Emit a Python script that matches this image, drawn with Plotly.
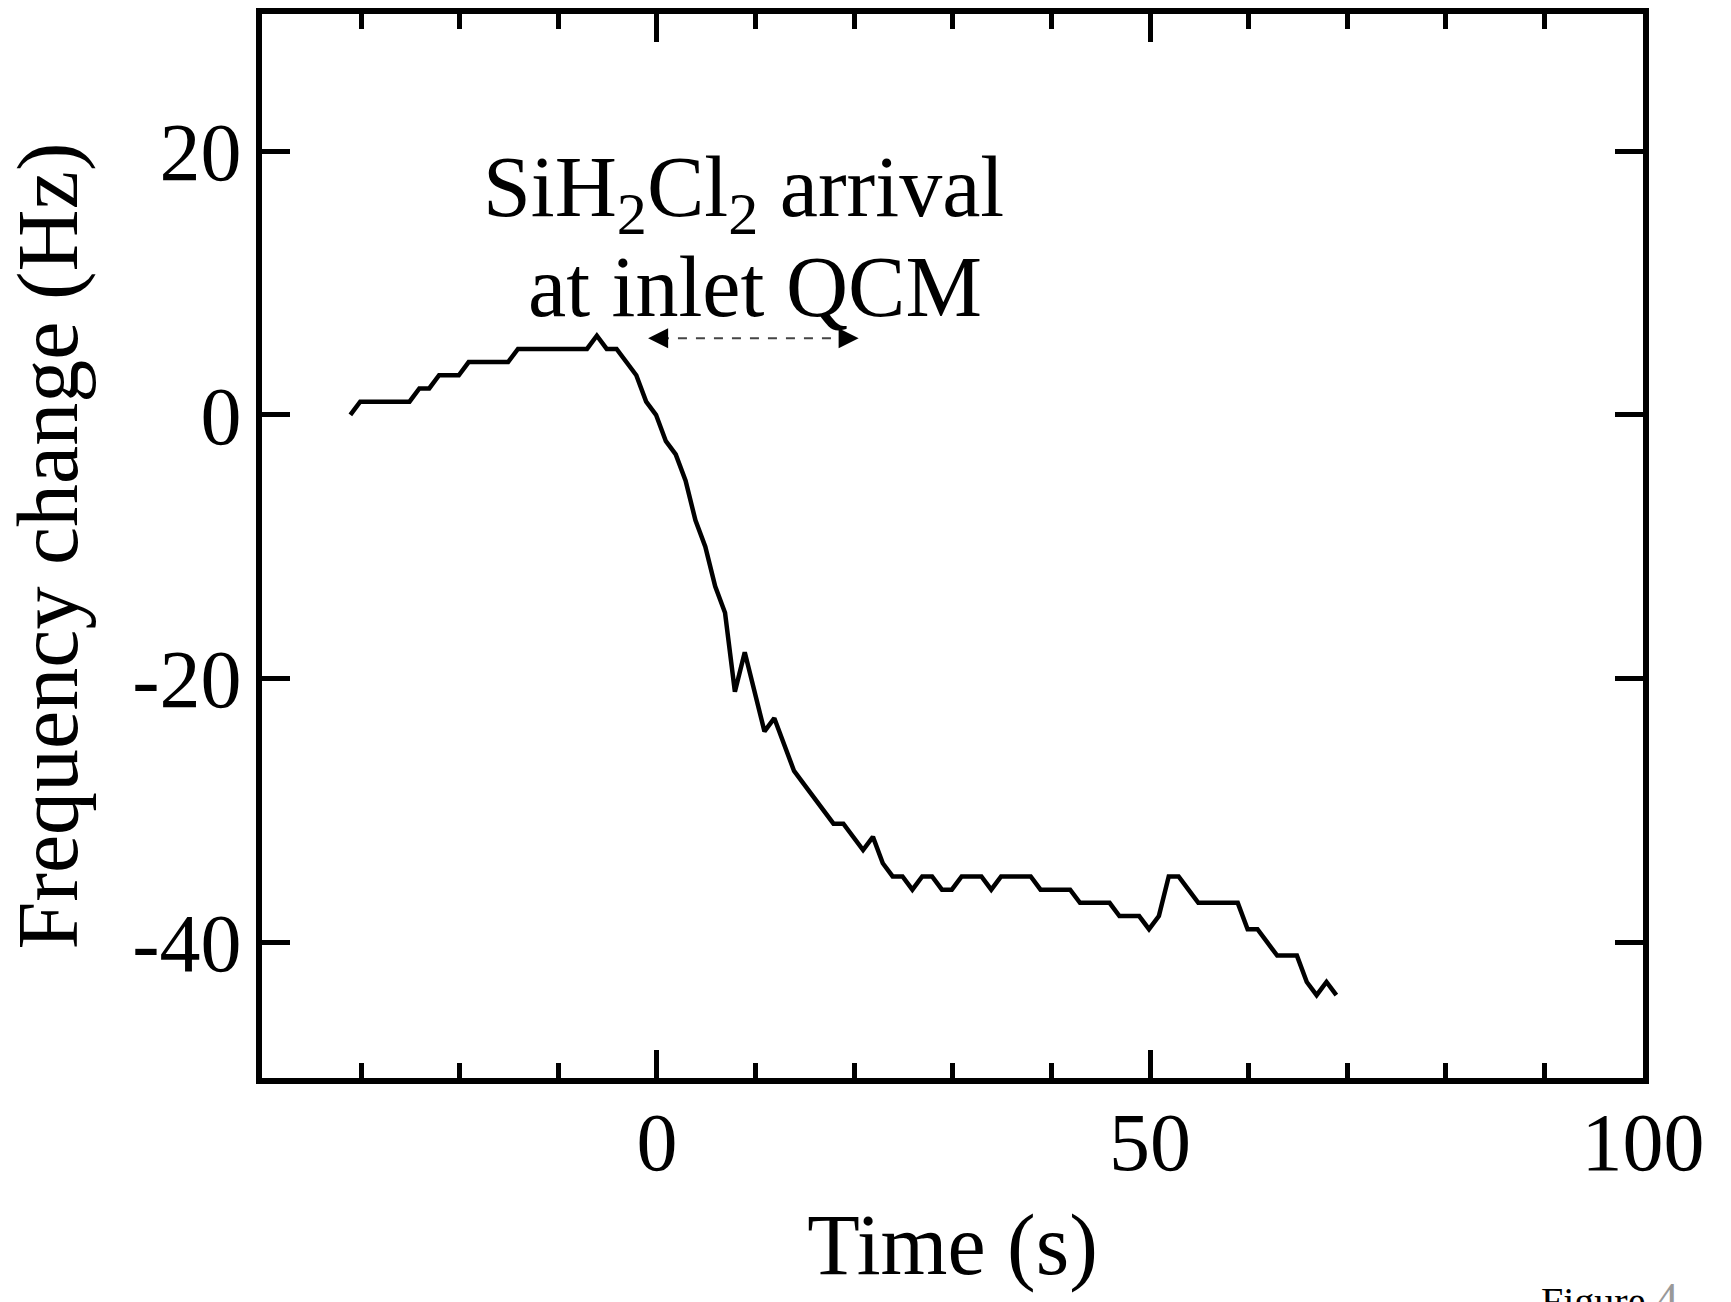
import plotly.graph_objects as go

# ---- data ----
time_s = [
    -31.1, -30.1, -29.1, -28.1, -27.1, -26.1, -25.1, -24.1, -23.1, -22.1,
    -21.1, -20.1, -19.1, -18.1, -17.1, -16.1, -15.1, -14.1, -13.1, -12.1,
    -11.1, -10.1, -9.1, -8.1, -7.1, -6.1, -5.1, -4.1, -3.1, -2.1,
    -1.1, -0.1, 0.9, 1.9, 2.9, 3.9, 4.9, 5.9, 6.9, 7.9,
    8.9, 9.9, 10.9, 11.9, 12.9, 13.9, 14.9, 15.9, 16.9, 17.9,
    18.9, 19.9, 20.9, 21.9, 22.9, 23.9, 24.9, 25.9, 26.9, 27.9,
    28.9, 29.9, 30.9, 31.9, 32.9, 33.9, 34.9, 35.9, 36.9, 37.9,
    38.9, 39.9, 40.9, 41.9, 42.9, 43.9, 44.9, 45.9, 46.9, 47.9,
    48.9, 49.9, 50.9, 51.9, 52.9, 53.9, 54.9, 55.9, 56.9, 57.9,
    58.9, 59.9, 60.9, 61.9, 62.9, 63.9, 64.9, 65.9, 66.9, 67.9,
    68.9,
]
freq_change_hz = [
    0, 1, 1, 1, 1, 1, 1, 2, 2, 3,
    3, 3, 4, 4, 4, 4, 4, 5, 5, 5,
    5, 5, 5, 5, 5, 6, 5, 5, 4, 3,
    1, 0, -2, -3, -5, -8, -10, -13, -15, -21,
    -18, -21, -24, -23, -25, -27, -28, -29, -30, -31,
    -31, -32, -33, -32, -34, -35, -35, -36, -35, -35,
    -36, -36, -35, -35, -35, -36, -35, -35, -35, -35,
    -36, -36, -36, -36, -37, -37, -37, -37, -38, -38,
    -38, -39, -38, -35, -35, -36, -37, -37, -37, -37,
    -37, -39, -39, -40, -41, -41, -41, -43, -44, -43,
    -44,
]

x_tick_vals = [0, 50, 100]
x_tick_text = ["0", "50", "100"]
y_tick_vals = [-40, -20, 0, 20]
y_tick_text = ["-40", "-20", "0", "20"]

annot_line1 = "SiH<sub>2</sub>Cl<sub>2</sub> arrival"
annot_line2 = "at inlet QCM"
arrow_start, arrow_end, arrow_y = -0.9, 20.45, 5.8

FONT = "Liberation Serif, Times New Roman, serif"

fig = go.Figure()
fig.add_trace(go.Scatter(
    x=time_s, y=freq_change_hz, mode="lines",
    line=dict(color="black", width=4.5), showlegend=False,
))

axis_common = dict(
    showgrid=False, zeroline=False, automargin=False,
    showline=True, linecolor="black", linewidth=6, mirror="ticks",
    ticks="inside", tickcolor="black", tickwidth=5, ticklen=28,
    tickfont=dict(family=FONT, size=82, color="black"),
)

fig.update_xaxes(
    range=[-40.06, 100], tickmode="array", tickvals=x_tick_vals, ticktext=x_tick_text,
    minor=dict(dtick=10, tick0=0, ticks="inside", ticklen=15, tickwidth=5, tickcolor="black"),
    title=dict(text="Time (s)", font=dict(family=FONT, size=86, color="black"), standoff=28),
    ticklabelstandoff=-12,
    **axis_common,
)
fig.update_yaxes(
    range=[-50.28, 30.39], tickmode="array", tickvals=y_tick_vals, ticktext=y_tick_text,
    title=dict(text="Frequency change (Hz)", font=dict(family=FONT, size=86, color="black"), standoff=30),
    ticklabelstandoff=-2,
    **axis_common,
)

# dashed double arrow
fig.add_shape(type="line", xref="x", yref="y",
              x0=arrow_start + 1.2, x1=arrow_end - 1.2, y0=arrow_y, y1=arrow_y,
              line=dict(color="#444444", width=2, dash="dash"))
for tip, tail in [(arrow_start, arrow_start + 1.8), (arrow_end, arrow_end - 1.8)]:
    fig.add_annotation(x=tip, y=arrow_y, ax=tail, ay=arrow_y, axref="x", ayref="y",
                       xref="x", yref="y", text="", showarrow=True,
                       arrowhead=2, arrowsize=2.0, arrowwidth=2, arrowcolor="black")

fig.add_annotation(x=8.8, y=16.8, xref="x", yref="y", text=annot_line1, showarrow=False,
                   font=dict(family=FONT, size=86, color="black"), xanchor="center", yanchor="middle")
fig.add_annotation(x=9.95, y=9.7, xref="x", yref="y", text=annot_line2, showarrow=False,
                   font=dict(family=FONT, size=86, color="black"), xanchor="center", yanchor="middle")

fig.add_annotation(x=0.925, y=-0.182, xref="paper", yref="paper",
                   text="Figure <span style='color:#999999;font-size:46px'>4</span>", showarrow=False,
                   font=dict(family=FONT, size=40, color="black"),
                   xanchor="left", yanchor="top")

fig.update_layout(
    width=1731, height=1302,
    margin=dict(l=262, r=88, t=14, b=224),
    paper_bgcolor="white", plot_bgcolor="white",
    showlegend=False,
)

fig.write_html("out.html", config={"displayModeBar": False},
               post_script="document.body.style.margin='0px';document.body.style.overflow='hidden';")
